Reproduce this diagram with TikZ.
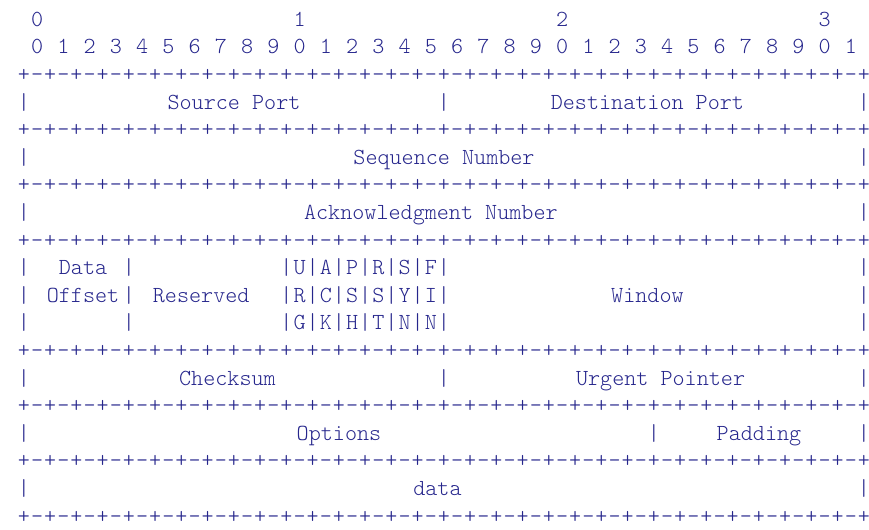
\documentclass[tikz,border=0pt]{standalone}
\usepackage{xcolor}
\usepackage{tikz}
\definecolor{rfcblue}{RGB}{38,38,140}

\begin{document}
\begin{tikzpicture}[x=6.5625pt, y=-13.8pt,
    font=\fontsize{11.5}{13}\fontseries{l}\ttfamily]
  \tikzstyle{chr}=[inner sep=0pt, anchor=base, text=rfcblue]
  \useasboundingbox (-1.8286,0.05) rectangle (64.381,19.22);

  % bit numbers
  \foreach \t/\c in {0/1,1/21,2/41,3/61}
    \node[chr] (ten\t) at (\c,1) {\t};
  \foreach \b in {0,...,31} {
    \pgfmathtruncatemacro{\d}{mod(\b,10)}
    \node[chr] (bit\b) at (2*\b+1,2) {\d};
  }

  % +-+-+ rules
  \foreach \k in {3,5,7,9,13,15,17,19} {
    \foreach \c in {0,2,...,64}
      \node[chr] (plus\k-\c) at (\c,\k) {+};
    \foreach \c in {1,3,...,63}
      \node[chr] (dash\k-\c) at (\c,\k) {-};
  }

  % field borders
  \foreach \k/\cols in {4/{0,32,64}, 6/{0,64}, 8/{0,64},
      10/{0,8,20,22,...,32,64}, 11/{0,8,20,22,...,32,64},
      12/{0,8,20,22,...,32,64}, 14/{0,32,64}, 16/{0,48,64}, 18/{0,64}}
    \foreach \c in \cols
      \node[chr] (bar\k-\c) at (\c,\k) {|};

  % control flags
  \foreach \k/\flags in {10/{U,A,P,R,S,F}, 11/{R,C,S,S,Y,I}, 12/{G,K,H,T,N,N}}
    \foreach \l [count=\i] in \flags
      \node[chr] (flag\k-\i) at (19+2*\i,\k) {\l};

  % field names
  \node[chr] (srcport) at (16,4) {Source Port};
  \node[chr] (dstport) at (47.5,4) {Destination Port};
  \node[chr] (seqno) at (32,6) {Sequence Number};
  \node[chr] (ackno) at (31,8) {Acknowledgment Number};
  \node[chr] (offs1) at (4.5,10) {Data};
  \node[chr] (offs2) at (4.5,11) {Offset};
  \node[chr] (resvd) at (13.5,11) {Reserved};
  \node[chr] (window) at (47.5,11) {Window};
  \node[chr] (chksum) at (15.5,14) {Checksum};
  \node[chr] (urgptr) at (48.5,14) {Urgent Pointer};
  \node[chr] (opts) at (24,16) {Options};
  \node[chr] (padding) at (56,16) {Padding};
  \node[chr] (data) at (31.5,18) {data};
\end{tikzpicture}
\end{document}
